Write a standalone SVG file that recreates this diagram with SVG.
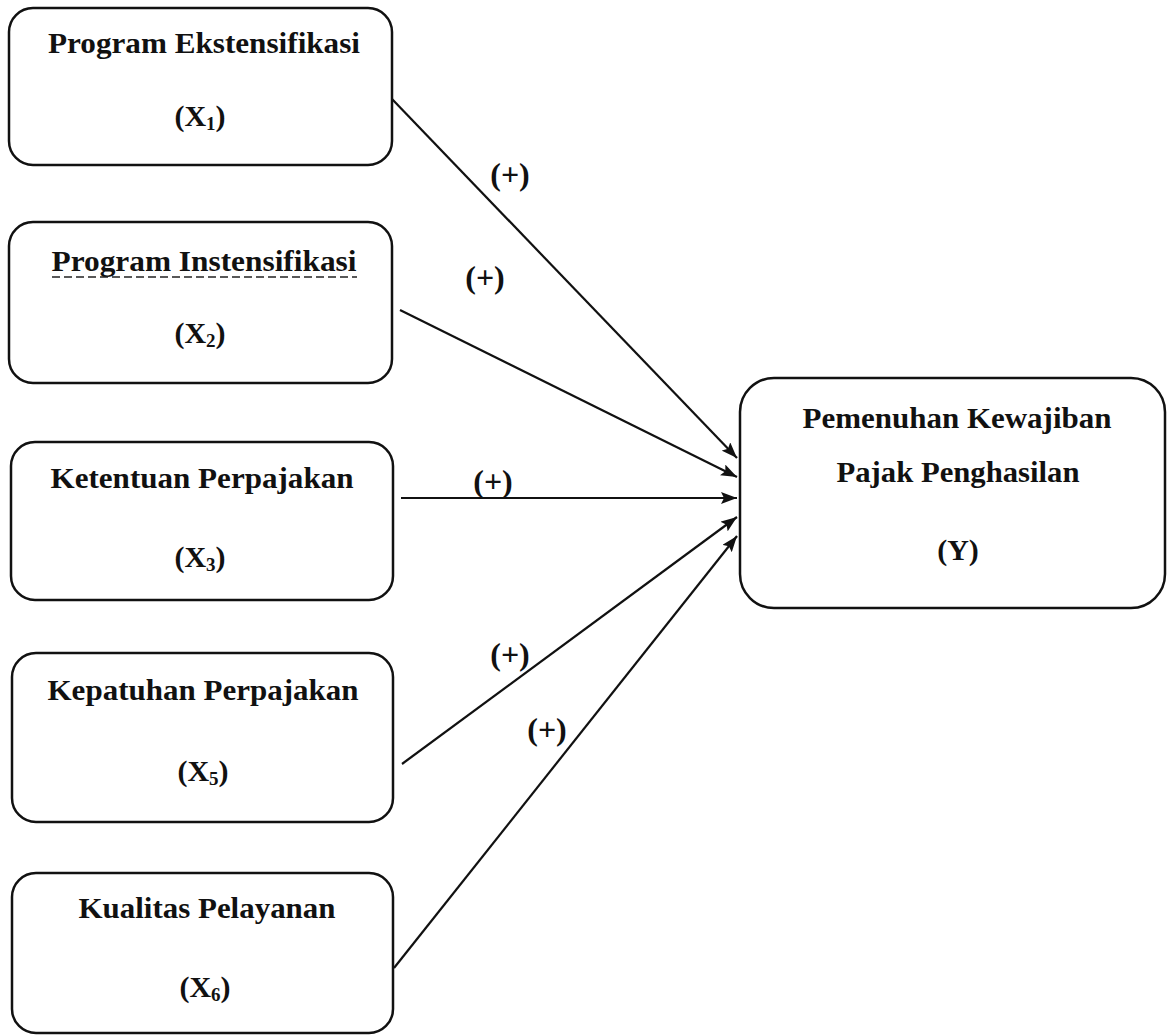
<svg xmlns="http://www.w3.org/2000/svg" width="1167" height="1036" viewBox="0 0 1167 1036">
<style>
.box{fill:#fff;stroke:#111;stroke-width:2.5}
.t{font-family:"Liberation Serif","Times New Roman",serif;font-weight:bold;font-size:30px;fill:#111;text-anchor:middle}
.sub{font-size:19px}
.edge{stroke:#111;stroke-width:2.2;fill:none;marker-end:url(#ah)}
.lbl{font-family:"Liberation Serif","Times New Roman",serif;font-weight:bold;font-size:32px;fill:#111;text-anchor:middle}
</style>
<defs>
<marker id="ah" viewBox="0 0 16 12" refX="16" refY="6" markerWidth="16" markerHeight="12" markerUnits="userSpaceOnUse" orient="auto">
<path d="M0,0 L16,6 L0,12 L3,6 Z" fill="#111"/>
</marker>
</defs>
<rect width="1167" height="1036" fill="#fff"/>
<g id="x1">
<rect class="box" x="9" y="8" width="383" height="157" rx="24"/>
<text class="t" x="204" y="53" textLength="312" lengthAdjust="spacingAndGlyphs">Program Ekstensifikasi</text>
<text class="t" x="200" y="126">(X<tspan class="sub" dy="4">1</tspan><tspan dy="-4">)</tspan></text>
</g>
<g id="x2">
<rect class="box" x="9" y="222" width="383" height="161" rx="24"/>
<text class="t" x="204" y="271" textLength="305" lengthAdjust="spacingAndGlyphs">Program Instensifikasi</text>
<line x1="52" y1="277" x2="357" y2="277" stroke="#222" stroke-width="1.5" stroke-dasharray="8,4"/>
<text class="t" x="200" y="343">(X<tspan class="sub" dy="4">2</tspan><tspan dy="-4">)</tspan></text>
</g>
<g id="x3">
<rect class="box" x="11" y="442" width="382" height="158" rx="24"/>
<text class="t" x="202" y="488" textLength="303" lengthAdjust="spacingAndGlyphs">Ketentuan Perpajakan</text>
<text class="t" x="200" y="567">(X<tspan class="sub" dy="4">3</tspan><tspan dy="-4">)</tspan></text>
</g>
<g id="x5">
<rect class="box" x="12" y="653" width="381" height="169" rx="24"/>
<text class="t" x="203" y="700" textLength="311" lengthAdjust="spacingAndGlyphs">Kepatuhan Perpajakan</text>
<text class="t" x="203" y="781">(X<tspan class="sub" dy="4">5</tspan><tspan dy="-4">)</tspan></text>
</g>
<g id="x6">
<rect class="box" x="12" y="873" width="381" height="160" rx="24"/>
<text class="t" x="207" y="918" textLength="257" lengthAdjust="spacingAndGlyphs">Kualitas Pelayanan</text>
<text class="t" x="205" y="997">(X<tspan class="sub" dy="4">6</tspan><tspan dy="-4">)</tspan></text>
</g>
<g id="y">
<rect class="box" x="740" y="378" width="425" height="230" rx="34"/>
<text class="t" x="957" y="428" textLength="309" lengthAdjust="spacingAndGlyphs">Pemenuhan Kewajiban</text>
<text class="t" x="958" y="482" textLength="243" lengthAdjust="spacingAndGlyphs">Pajak Penghasilan</text>
<text class="t" x="958" y="560">(Y)</text>
</g>
<g id="connectors">
<line class="edge" x1="392" y1="99" x2="737" y2="458"/>
<line class="edge" x1="400" y1="310" x2="737" y2="477"/>
<line class="edge" x1="401" y1="498" x2="737" y2="498"/>
<line class="edge" x1="402" y1="764" x2="737" y2="517"/>
<line class="edge" x1="394" y1="968" x2="737" y2="536"/>
<text class="lbl" x="510" y="185">(+)</text>
<text class="lbl" x="485" y="288">(+)</text>
<text class="lbl" x="493" y="492">(+)</text>
<text class="lbl" x="510" y="665">(+)</text>
<text class="lbl" x="547" y="740">(+)</text>
</g>
</svg>
